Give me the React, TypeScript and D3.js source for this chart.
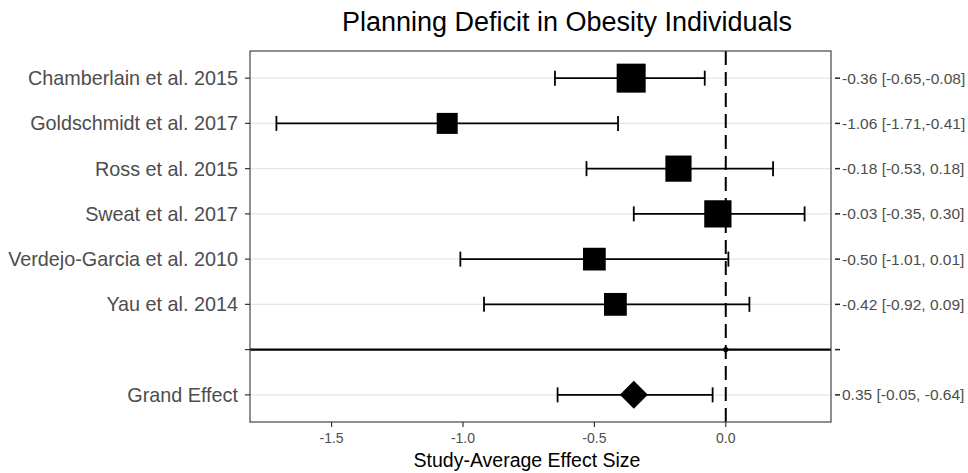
import React from "react";
import * as d3 from "d3";

// Study-level standardized effects with 95% confidence limits
const studies = [
  "Chamberlain et al. 2015",
  "Goldschmidt et al. 2017",
  "Ross et al. 2015",
  "Sweat et al. 2017",
  "Verdejo-Garcia et al. 2010",
  "Yau et al. 2014",
];
const effects = [-0.36, -1.06, -0.18, -0.03, -0.5, -0.42];
const lowerCI = [-0.65, -1.71, -0.53, -0.35, -1.01, -0.92];
const upperCI = [-0.08, -0.41, 0.18, 0.3, 0.01, 0.09];

// Pooled estimate
const grandName = "Grand Effect";
const grandEffect = -0.35;
const grandLower = -0.64;
const grandUpper = -0.05;
const grandText = "0.35 [-0.05, -0.64]";

const xTicks = [-1.5, -1.0, -0.5, 0.0];

const title = "Planning Deficit in Obesity Individuals";
const xTitle = "Study-Average Effect Size";

const W = 968;
const H = 473;
const M = { left: 250, right: 831, top: 51, bottom: 422 };
const FONT = "'Liberation Sans', Arial, Helvetica, sans-serif";

const fmt = (v: number) => v.toFixed(2);
const fmtUpper = (v: number) => (v < 0 ? fmt(v) : " " + fmt(v));

export default function App() {
  const SEP = "__sep__";
  const rows = [...studies, SEP, grandName];

  const allVals = [...lowerCI, ...upperCI, grandLower, grandUpper];
  const lo = d3.min(allVals) as number;
  const hi = d3.max(allVals) as number;
  const pad = (hi - lo) * 0.05;
  const x = d3.scaleLinear().domain([lo - pad, hi + pad]).range([M.left, M.right]);
  const y = d3.scalePoint<string>().domain(rows).range([M.top, M.bottom]).padding(0.6);

  // Inverse-variance weights set the marker size
  const weights = studies.map((_, i) => {
    const se = (upperCI[i] - lowerCI[i]) / 3.92;
    return 1 / (se * se);
  });
  const size = d3
    .scaleSqrt()
    .domain(d3.extent(weights) as [number, number])
    .range([21, 29]);

  const capH = 7.5;
  const labels = studies.map(
    (_, i) => `${fmt(effects[i])} [${fmt(lowerCI[i])},${fmtUpper(upperCI[i])}]`
  );
  const rightLabels = [...labels, "", grandText];

  const yG = y(grandName) as number;
  const ySep = y(SEP) as number;
  const gx = x(grandEffect);
  const dh = 14;

  return (
    <svg
      width={W}
      height={H}
      style={{ position: "absolute", left: 0, top: 0, background: "#fff" }}
      fontFamily={FONT}
    >
      <rect x={0} y={0} width={W} height={H} fill="#fff" />
      <text x={567} y={31} textAnchor="middle" fontSize={27} fill="#000">
        {title}
      </text>

      {/* horizontal grid */}
      {rows.map((r) => (
        <line
          key={"g" + r}
          x1={M.left}
          x2={M.right}
          y1={y(r)}
          y2={y(r)}
          stroke="#e6e6e6"
          strokeWidth={1.2}
        />
      ))}

      {/* reference line at zero */}
      <line
        x1={x(0)}
        x2={x(0)}
        y1={M.top}
        y2={M.bottom}
        stroke="#000"
        strokeWidth={2}
        strokeDasharray="14 7"
      />

      {/* separator between studies and pooled estimate */}
      <line x1={M.left} x2={M.right} y1={ySep} y2={ySep} stroke="#000" strokeWidth={2.2} />
      <circle cx={x(0)} cy={ySep} r={2.6} fill="#000" />

      {/* study error bars and squares */}
      {studies.map((s, i) => {
        const cy = y(s) as number;
        const sz = size(weights[i]);
        return (
          <g key={s}>
            <line x1={x(lowerCI[i])} x2={x(upperCI[i])} y1={cy} y2={cy} stroke="#000" strokeWidth={1.8} />
            <line x1={x(lowerCI[i])} x2={x(lowerCI[i])} y1={cy - capH} y2={cy + capH} stroke="#000" strokeWidth={1.8} />
            <line x1={x(upperCI[i])} x2={x(upperCI[i])} y1={cy - capH} y2={cy + capH} stroke="#000" strokeWidth={1.8} />
            <rect x={x(effects[i]) - sz / 2} y={cy - sz / 2} width={sz} height={sz} fill="#000" />
          </g>
        );
      })}

      {/* pooled estimate */}
      <line x1={x(grandLower)} x2={x(grandUpper)} y1={yG} y2={yG} stroke="#000" strokeWidth={1.8} />
      <line x1={x(grandLower)} x2={x(grandLower)} y1={yG - capH} y2={yG + capH} stroke="#000" strokeWidth={1.8} />
      <line x1={x(grandUpper)} x2={x(grandUpper)} y1={yG - capH} y2={yG + capH} stroke="#000" strokeWidth={1.8} />
      <path
        d={`M${gx},${yG - dh} L${gx + dh},${yG} L${gx},${yG + dh} L${gx - dh},${yG} Z`}
        fill="#000"
      />

      {/* panel border */}
      <rect
        x={M.left}
        y={M.top}
        width={M.right - M.left}
        height={M.bottom - M.top}
        fill="none"
        stroke="#444"
        strokeWidth={1.2}
      />

      {/* left axis */}
      {rows.map((r) => (
        <g key={"l" + r}>
          <line x1={M.left - 5} x2={M.left} y1={y(r)} y2={y(r)} stroke="#333" strokeWidth={1.2} />
          {r !== SEP && (
            <text
              x={M.left - 12}
              y={y(r)}
              dy="0.35em"
              textAnchor="end"
              fontSize={19.8}
              fill="#4d4d4d"
            >
              {r}
            </text>
          )}
        </g>
      ))}

      {/* right axis with effect labels */}
      {rows.map((r, i) => (
        <g key={"r" + r}>
          <line x1={M.right + 4} x2={M.right + 9} y1={y(r)} y2={y(r)} stroke="#222" strokeWidth={1.5} />
          <text x={M.right + 11} y={y(r)} dy="0.35em" fontSize={15.5} fill="#4d4d4d">
            {rightLabels[i]}
          </text>
        </g>
      ))}

      {/* bottom axis */}
      {xTicks.map((t) => (
        <g key={"x" + t}>
          <line x1={x(t)} x2={x(t)} y1={M.bottom} y2={M.bottom + 5} stroke="#333" strokeWidth={1.2} />
          <text x={x(t)} y={M.bottom + 21} textAnchor="middle" fontSize={14} fill="#4d4d4d">
            {t.toFixed(1)}
          </text>
        </g>
      ))}
      <text x={527} y={467} textAnchor="middle" fontSize={19.5} fill="#000">
        {xTitle}
      </text>
    </svg>
  );
}
